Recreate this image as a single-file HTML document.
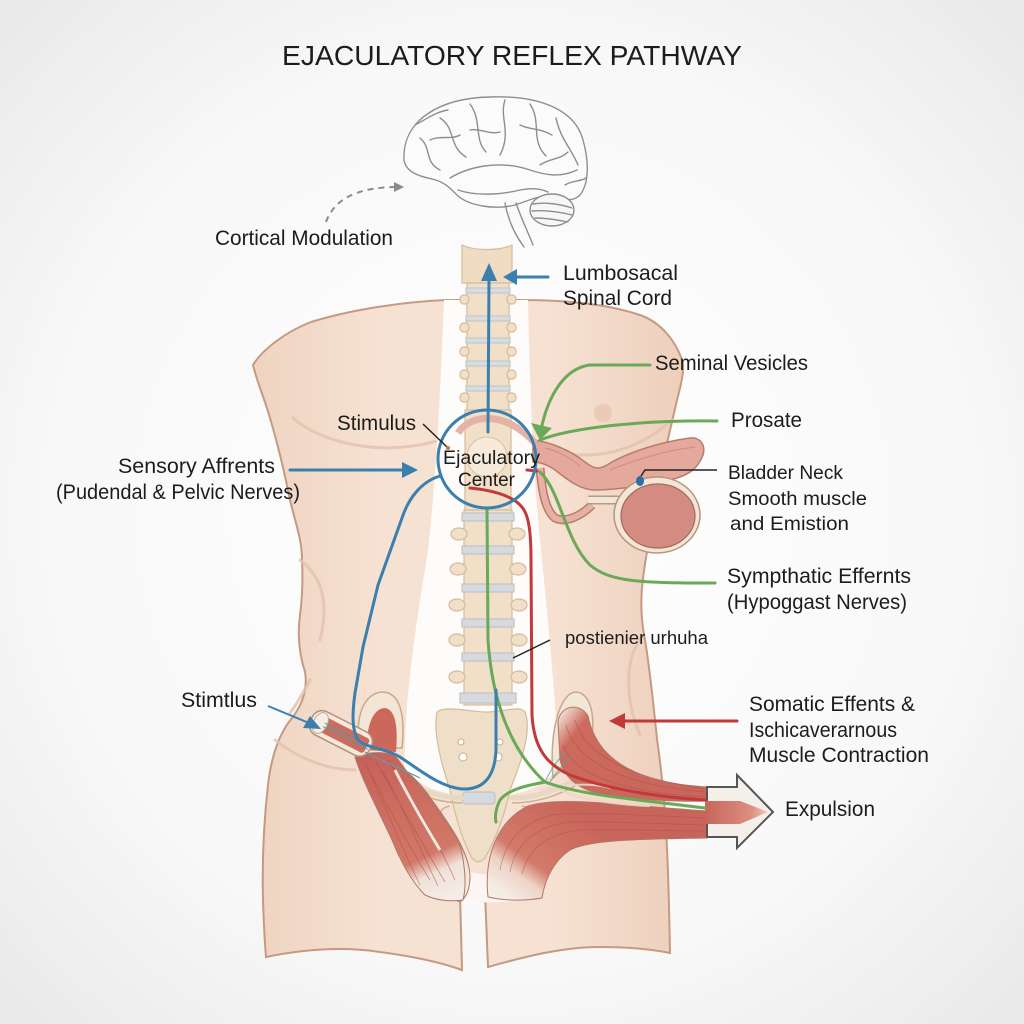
<!DOCTYPE html>
<html><head><meta charset="utf-8"><style>
html,body{margin:0;padding:0;background:#f6f6f6;}
svg{display:block;}
text{font-family:"Liberation Sans",Arial,sans-serif;fill:#1c1c1c;}
</style></head><body>
<svg width="1024" height="1024" viewBox="0 0 1024 1024" xmlns="http://www.w3.org/2000/svg">
<defs>
<radialGradient id="bg" cx="50%" cy="50%" r="75%">
<stop offset="0" stop-color="#ffffff"/><stop offset="0.6" stop-color="#f8f8f8"/><stop offset="1" stop-color="#e6e6e6"/>
</radialGradient>
<linearGradient id="skin" x1="0" y1="0" x2="1" y2="0">
<stop offset="0" stop-color="#efd3c0"/><stop offset="0.3" stop-color="#f6e2d3"/><stop offset="0.7" stop-color="#f6e1d2"/><stop offset="1" stop-color="#edcfbb"/>
</linearGradient>
<linearGradient id="mL" gradientUnits="userSpaceOnUse" x1="380" y1="755" x2="445" y2="900">
<stop offset="0" stop-color="#c7625a"/><stop offset="0.7" stop-color="#d27868"/><stop offset="0.82" stop-color="#efe2d8"/><stop offset="1" stop-color="#f4ede6"/>
</linearGradient>
<linearGradient id="mR" gradientUnits="userSpaceOnUse" x1="505" y1="895" x2="570" y2="805">
<stop offset="0" stop-color="#f4ede6"/><stop offset="0.22" stop-color="#ecd3c6"/><stop offset="0.38" stop-color="#d37a6b"/><stop offset="1" stop-color="#c8645a"/>
</linearGradient>
<linearGradient id="mU" gradientUnits="userSpaceOnUse" x1="570" y1="700" x2="700" y2="800">
<stop offset="0" stop-color="#f1e3d6"/><stop offset="0.15" stop-color="#cd6a5e"/><stop offset="1" stop-color="#c9655b"/>
</linearGradient>
<linearGradient id="tip" gradientUnits="userSpaceOnUse" x1="705" y1="0" x2="772" y2="0">
<stop offset="0" stop-color="#c9655b"/><stop offset="0.7" stop-color="#dc8f80"/><stop offset="1" stop-color="#f2dcd2"/>
</linearGradient>
</defs>
<rect width="1024" height="1024" fill="url(#bg)"/>

<!-- Title -->
<text x="512" y="65" text-anchor="middle" font-size="28" textLength="460" lengthAdjust="spacingAndGlyphs">EJACULATORY REFLEX PATHWAY</text>

<!-- Brain -->
<g fill="none" stroke="#8e8e8e" stroke-width="1.4" stroke-linecap="round">
<path d="M404,160 C402,120 440,98 490,97 C540,95 575,110 583,140 C590,165 588,185 580,195 C572,203 562,199 552,196 C540,195 530,200 515,205 C495,210 470,206 458,196 C450,188 445,182 432,179 C418,176 406,172 404,160 Z" fill="#fbfbfb"/>
<ellipse cx="552" cy="210" rx="22" ry="16" fill="#f7f7f7"/>
<path d="M533,204 C545,202 560,204 572,208 M532,211 C545,210 560,212 572,215 M535,218 C547,218 558,220 568,222"/>
<path d="M505,203 C508,220 515,235 524,247 M516,203 C521,218 528,232 533,245" />
<path d="M450,178 C470,166 500,160 530,170 C545,175 560,178 577,170"/>
<path d="M458,190 C475,196 500,195 520,190 C530,188 540,188 548,192"/>
<path d="M505,100 C499,118 512,132 500,155"/>
<path d="M440,118 C456,128 448,146 466,157"/>
<path d="M470,104 C482,120 474,140 486,152"/>
<path d="M530,104 C542,122 530,140 546,156"/>
<path d="M556,118 C560,138 572,150 578,165"/>
<path d="M420,138 C432,148 424,162 440,170"/>
<path d="M415,125 C425,120 435,112 448,110"/>
<path d="M520,125 C530,130 540,128 552,135"/>
<path d="M470,130 C480,128 490,135 500,132"/>
<path d="M565,185 C572,180 580,182 586,178"/>
<path d="M430,140 C440,135 452,140 460,135"/>
<path d="M540,165 C550,158 560,160 568,152"/>
</g>
<!-- dashed arrow -->
<path d="M326,222 C334,200 355,188 394,187" fill="none" stroke="#8a8a8a" stroke-width="2" stroke-dasharray="6 5"/>
<polygon points="404,187 394,182 394,192" fill="#8a8a8a"/>

<!-- Body -->
<path d="M253,365 C258,385 265,400 270,418 C278,445 285,475 290,500 C296,525 302,540 302,560 C303,580 302,600 300,615 C298,630 298,650 305,672 C308,690 302,705 292,718 C282,730 272,750 268,785 C264,820 262,860 263,900 C264,930 265,945 266,957 C300,950 340,946 380,952 C410,956 440,962 462,970 L460,893 C465,882 478,880 485,893 L488,967 C520,958 560,947 600,947 C630,947 655,950 670,953 C669,900 668,860 666,830 C664,790 660,760 657,739 C654,710 650,670 645,640 C641,620 640,600 643,578 C646,555 650,537 655,500 C660,470 668,440 677,400 C681,385 684,372 683,363 C676,340 660,322 640,315 C610,305 570,300 522,300 L447,300 C400,302 350,310 311,322 C285,332 262,350 253,365 Z" fill="url(#skin)" stroke="#c49a82" stroke-width="2"/>
<!-- chest folds -->
<g fill="none" stroke="#e2c2ac" stroke-width="3" stroke-linecap="round" opacity="0.8">
<path d="M293,418 C320,442 380,458 440,440"/>
<path d="M528,442 C570,462 625,462 672,420"/>
<path d="M300,560 C320,575 330,600 320,640"/>
<path d="M640,640 C625,660 625,700 640,735"/>
<path d="M275,740 C300,760 330,770 355,770"/>
<path d="M310,680 C302,695 296,705 290,713"/>
</g>
<circle cx="603" cy="413" r="9" fill="#eccab5"/>

<!-- white channel around spine -->
<path d="M444,300 L528,300 C530,400 534,480 540,540 C546,600 552,660 556,720 L556,770 C540,790 520,795 487,797 C455,797 425,792 404,770 L406,720 C410,660 420,600 428,550 C436,480 440,400 444,300 Z" fill="#fdfcfb"/>
<!-- gap between legs -->
<path d="M452,860 C465,878 505,880 528,860 L524,898 C505,904 478,904 458,898 Z" fill="#fbf6f3"/>

<!-- Spine -->
<g stroke="#d5bb9a" stroke-width="1.2">
<path d="M462,245 C475,251 500,251 512,245 L512,283 L462,283 Z" fill="#efdcc2"/>
<rect x="467" y="283" width="42" height="130" fill="#f1dfc8"/>
<rect x="465" y="410" width="46" height="100" fill="#f1dfc8"/>
<g fill="#f1dfc8">
<rect x="460" y="295" width="9" height="9" rx="4"/><rect x="507" y="295" width="9" height="9" rx="4"/>
<rect x="460" y="323" width="9" height="9" rx="4"/><rect x="507" y="323" width="9" height="9" rx="4"/>
<rect x="460" y="347" width="9" height="9" rx="4"/><rect x="507" y="347" width="9" height="9" rx="4"/>
<rect x="460" y="370" width="9" height="9" rx="4"/><rect x="507" y="370" width="9" height="9" rx="4"/>
<rect x="460" y="393" width="9" height="9" rx="4"/><rect x="507" y="393" width="9" height="9" rx="4"/>
</g>
<g fill="#d9dde0" stroke="#c3c8cc">
<rect x="466" y="288" width="44" height="5"/><rect x="466" y="316" width="44" height="5"/>
<rect x="466" y="338" width="44" height="5"/><rect x="466" y="361" width="44" height="5"/>
<rect x="466" y="386" width="44" height="5"/>
</g>
<rect x="464" y="510" width="48" height="195" fill="#f1dfc8"/>
<g fill="#f1dfc8">
<ellipse cx="459" cy="534" rx="8" ry="6"/><ellipse cx="517" cy="534" rx="8" ry="6"/>
<ellipse cx="458" cy="569" rx="8" ry="6"/><ellipse cx="518" cy="569" rx="8" ry="6"/>
<ellipse cx="457" cy="605" rx="8" ry="6"/><ellipse cx="519" cy="605" rx="8" ry="6"/>
<ellipse cx="457" cy="640" rx="8" ry="6"/><ellipse cx="519" cy="640" rx="8" ry="6"/>
<ellipse cx="457" cy="677" rx="8" ry="6"/><ellipse cx="519" cy="677" rx="8" ry="6"/>
</g>
<g fill="#d6dade" stroke="#bfc4c8">
<rect x="462" y="513" width="52" height="8"/><rect x="462" y="546" width="52" height="8"/>
<rect x="462" y="584" width="52" height="8"/><rect x="462" y="619" width="52" height="8"/>
<rect x="462" y="653" width="52" height="8"/><rect x="460" y="693" width="56" height="10"/>
</g>
<!-- sacrum -->
<path d="M437,712 C445,705 470,712 487,712 C505,712 520,705 525,712 C532,730 522,760 510,790 C505,815 495,840 485,858 C480,863 476,863 472,858 C462,840 455,815 450,790 C440,760 433,730 437,712 Z" fill="#f0dfc8"/>
<rect x="463" y="792" width="32" height="12" rx="3" fill="#d6dade" stroke="#bfc4c8"/>
</g>
<g fill="#fff" stroke="#c9ae90" stroke-width="1">
<circle cx="461" cy="742" r="3"/><circle cx="463" cy="757" r="4"/><circle cx="500" cy="742" r="3"/><circle cx="498" cy="757" r="4"/>
</g>

<!-- pelvic bone arcs -->
<g fill="none" stroke="#e8d7c1" stroke-width="5" stroke-linecap="round">
<path d="M372,762 C400,786 440,798 462,798"/>
<path d="M512,798 C535,798 558,790 578,778"/>
</g>
<g fill="none" stroke="#cdb193" stroke-width="1.5">
<path d="M372,768 C400,792 440,803 462,803"/>
<path d="M512,803 C535,803 558,796 578,784"/>
<path d="M450,806 C440,808 436,816 445,822"/>
<path d="M522,806 C532,808 536,816 527,822"/>
</g>

<!-- iliac wings -->
<path d="M360,748 C354,715 365,693 382,692 C398,692 406,710 402,748 Z" fill="#f3e6d6" stroke="#c9a88c" stroke-width="1.5"/>
<path d="M367,750 C366,722 375,708 385,708 C396,710 398,728 396,752 Z" fill="#cc675b"/>
<path d="M553,778 C549,730 560,694 575,692 C590,692 596,714 591,742 Z" fill="#f3e6d6" stroke="#c9a88c" stroke-width="1.5"/>

<!-- left muscle (back bundle) -->
<path d="M372,760 C395,758 415,775 432,800 C450,825 468,850 470,875 C470,890 466,898 460,902 C448,898 440,880 432,860 C418,830 395,795 372,760 Z" fill="url(#mL)" stroke="#b07766" stroke-width="1"/>
<!-- left muscle -->
<path d="M355,757 C370,751 390,751 397,758 C420,790 445,820 458,840 C465,860 467,885 463,900 C450,902 435,900 425,895 C410,880 400,860 392,840 C378,810 362,780 355,757 Z" fill="url(#mL)" stroke="#b07766" stroke-width="1"/>
<g stroke="#a9514a" stroke-width="0.8" opacity="0.6" fill="none">
<path d="M366,765 C385,800 405,840 430,880"/><path d="M376,762 C398,800 420,840 445,882"/><path d="M388,760 C410,795 435,835 455,880"/>
<path d="M370,775 C388,810 400,845 420,885"/><path d="M382,770 C402,805 418,845 438,886"/>
</g>
<path d="M395,770 C410,800 428,830 440,850" stroke="#f1e6dc" stroke-width="3" fill="none"/>

<!-- left stimulus tube -->
<g transform="rotate(27 340 733)">
<rect x="308" y="720" width="66" height="26" rx="11" fill="#f3e8dc" stroke="#b49078" stroke-width="1.5"/>
<rect x="318" y="725" width="52" height="16" rx="3" fill="#cd6b5c"/>
<ellipse cx="318" cy="733" rx="7" ry="11" fill="#f6eee6" stroke="#c8ab93" stroke-width="1"/>
<path d="M322,731 L372,731 M322,735 L372,735" stroke="#4c9aa5" stroke-width="1"/>
</g>
<path d="M365,752 C380,760 400,768 420,778" stroke="#5aa1a8" stroke-width="1.2" fill="none"/>

<!-- right upper band -->
<path d="M558,722 C560,705 580,702 588,716 C594,745 612,765 650,778 C675,785 695,786 707,787 L707,801 C680,802 640,800 605,795 C580,790 565,780 560,760 Z" fill="url(#mU)" stroke="#b07766" stroke-width="1"/>
<g stroke="#a9514a" stroke-width="0.8" opacity="0.6" fill="none">
<path d="M566,725 C575,760 620,785 705,792"/><path d="M575,720 C585,755 630,778 705,789"/><path d="M563,745 C575,775 620,792 705,797"/>
</g>
<!-- right lower fan -->
<path d="M488,897 C484,858 496,822 528,806 C560,796 620,805 707,811 L707,838 C650,839 595,839 572,849 C555,859 545,878 542,898 C525,901 505,901 488,897 Z" fill="url(#mR)" stroke="#b07766" stroke-width="1"/>
<g stroke="#a9514a" stroke-width="0.8" opacity="0.55" fill="none">
<path d="M500,870 C505,840 525,818 560,814 C600,812 650,816 705,818"/>
<path d="M510,872 C515,845 535,826 570,822 C610,821 660,824 705,825"/>
<path d="M522,874 C528,850 545,834 580,830 C620,829 660,831 705,831"/>
</g>
<g stroke="#e9d9cc" stroke-width="2" fill="none" opacity="0.9">
<path d="M560,790 C580,800 620,805 650,806"/>
<path d="M540,790 C560,785 590,782 610,788"/>
</g>
<!-- Expulsion arrow -->
<polygon points="707,787 737,787 737,775 773,812 737,848 737,837 707,837" fill="#f5efe9" stroke="#555" stroke-width="2" stroke-linejoin="miter"/>
<polygon points="705,801 740,801 768,812 740,824 705,824" fill="url(#tip)"/>

<!-- organ (seminal vesicle / prostate) -->
<path d="M540,468 C542,490 545,510 555,518 C565,523 580,517 592,505" fill="none" stroke="#b97b6d" stroke-width="9"/>
<path d="M540,468 C542,490 545,510 555,518 C565,523 580,517 592,505" fill="none" stroke="#e6b0a3" stroke-width="6"/>
<path d="M533,440 C550,442 570,450 585,462 C595,470 600,470 612,462 C630,452 660,442 690,438 C700,437 706,445 703,455 C698,468 690,475 670,480 C640,487 610,490 595,490 C580,490 568,480 555,470 C545,463 538,462 533,462 Z" fill="#e4a99c" stroke="#b97b6d" stroke-width="1.5"/>
<path d="M610,470 C640,458 670,450 695,447" fill="none" stroke="#d48f82" stroke-width="1.2"/>
<path d="M545,448 C560,452 570,458 580,466" fill="none" stroke="#d48f82" stroke-width="1.2"/>
<path d="M588,500 L630,500" stroke="#b49a82" stroke-width="9"/>
<path d="M588,500 L630,500" stroke="#f1e6d7" stroke-width="6"/>
<ellipse cx="657" cy="515" rx="43" ry="38" fill="#f2e6d6" stroke="#b7957d" stroke-width="1.5"/>
<ellipse cx="658" cy="516" rx="37" ry="32" fill="#d48b81" stroke="#a66a5e" stroke-width="1.2"/>
<ellipse cx="640" cy="481" rx="4" ry="5" fill="#2d6ea5"/>
<path d="M641,476 L645,470 L717,470" fill="none" stroke="#222" stroke-width="1.5"/>

<!-- circle interior bits -->
<circle cx="487" cy="457" r="20" fill="#f6eadb" stroke="#d8c2a6" stroke-width="1"/>
<path d="M458,433 C470,414 505,410 535,443" fill="none" stroke="#e2b3a6" stroke-width="7"/>

<!-- Green lines -->
<g fill="none" stroke="#6aa957" stroke-width="3" stroke-linecap="round">
<path d="M650,365 L590,365 C565,368 548,395 541,430"/>
<path d="M717,421 C640,420 570,428 540,440"/>
<path d="M540,472 C560,490 565,540 590,565 C610,582 640,583 715,583"/>
<path d="M487,508 L488,640 C492,700 510,750 545,782 C580,795 640,800 705,808"/>
<path d="M545,782 C530,785 510,788 500,800 C495,810 495,818 496,822"/>
</g>
<polygon points="540,440 531,423 552,428" fill="#6aa957"/>
<g fill="none" stroke="#4fa3a0" stroke-width="1" opacity="0.8">
<path d="M545,782 C550,770 558,760 565,752"/><path d="M548,785 C556,772 565,762 572,756"/>
</g>

<!-- Red lines -->
<g fill="none" stroke="#c0393b" stroke-width="3" stroke-linecap="round">
<path d="M470,488 C490,490 515,495 524,510 C530,520 531,540 531,560 L532,715 C534,750 548,765 570,775 C610,790 660,797 705,800"/>
<path d="M527,470 L537,471"/>
<path d="M737,721 L622,721"/>
</g>
<polygon points="609,721 625,713 625,729" fill="#c0393b"/>

<!-- Blue -->
<g fill="none" stroke="#3a7fad" stroke-width="3" stroke-linecap="round">
<circle cx="487" cy="459" r="49"/>
<path d="M488,432 L489,278"/>
<path d="M548,277 L514,277"/>
<path d="M290,470 L403,470"/>
<path d="M440,476 C420,482 408,500 402,518 L378,585 L363,647 L355,693 C352,715 352,730 358,740 C366,748 385,748 400,757 C420,770 440,787 462,789 C485,790 495,775 496,750 L496,690"/>
</g>
<polygon points="489,263 481,281 497,281" fill="#3a7fad"/>
<polygon points="503,277 517,269 517,285" fill="#3a7fad"/>
<polygon points="418,470 402,462 402,478" fill="#3a7fad"/>
<path d="M268,706 L309,723" stroke="#3a7fad" stroke-width="2" fill="none"/>
<polygon points="321,729 303,728 310,716" fill="#3a7fad"/>

<!-- leader lines -->
<path d="M423,424 L447,447" stroke="#222" stroke-width="1.5"/>
<circle cx="448" cy="448" r="2" fill="#d07a3a"/>
<path d="M550,640 L513,658" stroke="#222" stroke-width="1.5"/>

<!-- Labels -->
<g font-size="21" lengthAdjust="spacingAndGlyphs">
<text x="215" y="245" textLength="178" lengthAdjust="spacingAndGlyphs">Cortical Modulation</text>
<text x="563" y="280" textLength="115" lengthAdjust="spacingAndGlyphs">Lumbosacal</text>
<text x="563" y="305" textLength="109" lengthAdjust="spacingAndGlyphs">Spinal Cord</text>
<text x="655" y="370" textLength="153" lengthAdjust="spacingAndGlyphs">Seminal Vesicles</text>
<text x="731" y="427" textLength="71" lengthAdjust="spacingAndGlyphs">Prosate</text>
<text x="337" y="430" textLength="79" lengthAdjust="spacingAndGlyphs">Stimulus</text>
<text x="118" y="473" textLength="157" lengthAdjust="spacingAndGlyphs">Sensory Affrents</text>
<text x="56" y="499" textLength="244" lengthAdjust="spacingAndGlyphs">(Pudendal &amp; Pelvic Nerves)</text>
<text x="727" y="583" textLength="184" lengthAdjust="spacingAndGlyphs">Sympthatic Effernts</text>
<text x="727" y="609" textLength="180" lengthAdjust="spacingAndGlyphs">(Hypoggast Nerves)</text>
<text x="181" y="707" textLength="76" lengthAdjust="spacingAndGlyphs">Stimtlus</text>
<text x="749" y="711" textLength="166" lengthAdjust="spacingAndGlyphs">Somatic Effents &amp;</text>
<text x="749" y="737" textLength="148" lengthAdjust="spacingAndGlyphs">Ischicaverarnous</text>
<text x="749" y="762" textLength="180" lengthAdjust="spacingAndGlyphs">Muscle Contraction</text>
<text x="785" y="816" textLength="90" lengthAdjust="spacingAndGlyphs">Expulsion</text>
</g>
<g font-size="19.5">
<text x="728" y="479" textLength="115" lengthAdjust="spacingAndGlyphs">Bladder Neck</text>
<text x="728" y="505" textLength="139" lengthAdjust="spacingAndGlyphs">Smooth muscle</text>
<text x="730" y="530" textLength="119" lengthAdjust="spacingAndGlyphs">and Emistion</text>
<text x="443" y="464" textLength="97" lengthAdjust="spacingAndGlyphs">Ejaculatory</text>
<text x="458" y="486" textLength="57" lengthAdjust="spacingAndGlyphs">Center</text>
</g>
<text x="565" y="644" font-size="18.5" textLength="143" lengthAdjust="spacingAndGlyphs">postienier urhuha</text>
</svg>
</body></html>
